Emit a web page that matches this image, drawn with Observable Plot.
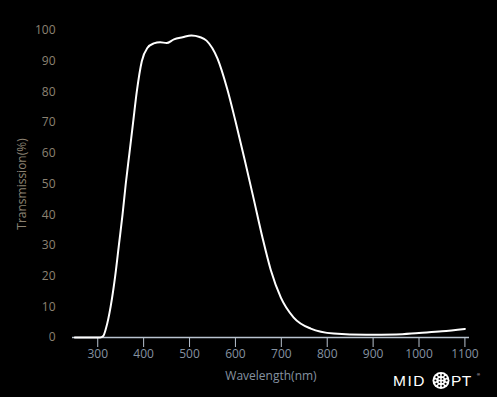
<!DOCTYPE html>
<html>
<head>
<meta charset="utf-8">
<script src="https://cdn.jsdelivr.net/npm/d3@7"></script>
<script src="https://cdn.jsdelivr.net/npm/@observablehq/plot@0.6"></script>
<style>
  html, body { margin: 0; padding: 0; background: #000; }
  #chart { width: 497px; height: 397px; position: relative; overflow: hidden; }
</style>
</head>
<body>
<div id="chart"></div>
<script>
const wavelength = [250, 280, 305, 312, 318, 328, 338, 346, 354, 361, 369, 377, 385, 396, 408, 422, 436, 450, 466, 485, 504, 522, 537, 561, 582, 600, 620, 640, 659, 677, 699, 727, 764, 814, 885, 950, 1000, 1050, 1100];
const transmission = [0, 0, 0, 0.5, 3, 10, 20, 30, 40, 50, 60, 70, 80, 90, 94.3, 95.8, 96.2, 95.9, 97.1, 97.8, 98.4, 97.9, 96.7, 90.8, 81, 70.5, 58, 45, 32.5, 22, 13, 6.5, 2.9, 1.3, 0.9, 1.0, 1.5, 2.0, 2.8];
const xTicks = [300, 400, 500, 600, 700, 800, 900, 1000, 1100];
const yTicks = [0, 10, 20, 30, 40, 50, 60, 70, 80, 90, 100];

const data = wavelength.map((w, i) => ({w, t: transmission[i]}));

const chart = Plot.plot({
  width: 497,
  height: 397,
  marginLeft: 72,
  marginRight: 28,
  marginTop: 30,
  marginBottom: 60,
  style: {background: "#000", fontFamily: "'Open Sans', 'DejaVu Sans', sans-serif", fontSize: "12px"},
  x: {domain: [245, 1110]},
  y: {domain: [0, 100]},
  marks: [
    Plot.axisY({ticks: yTicks, tickFormat: d => String(d), tickSize: 0, tickPadding: 17, color: "#8c8272", label: "Transmission(%)", labelAnchor: "center", labelArrow: "none", labelOffset: 55}),
    Plot.axisX({ticks: xTicks, tickFormat: d => String(d), tickSize: 10, tickPadding: 2, color: "#8592a0", stroke: "#b9c3cf", strokeOpacity: 1, label: "Wavelength(nm)", labelAnchor: "center", labelArrow: "none", labelOffset: 42}),
    Plot.ruleY([0], {stroke: "#b9c3cf", strokeWidth: 1.3}),
    Plot.line(data, {x: "w", y: "t", stroke: "#fff", strokeWidth: 2, curve: "monotone-x"})
  ]
});
document.getElementById("chart").appendChild(chart);

// Logo (decoration)
const svg = d3.select(chart);
const g = svg.append("g").attr("transform", "translate(393,386)").attr("fill", "#fff")
  .style("font-family", "'Liberation Sans', Arial, sans-serif").style("font-size", "15.5px")
  .attr("text-anchor", "start");
g.append("text").attr("x", 0).attr("y", 0).attr("text-anchor", "start").style("letter-spacing", "1.5px").text("MID");
const cx = 48, cy = -5.5;
g.append("circle").attr("cx", cx).attr("cy", cy).attr("r", 8.5).attr("fill", "#fff");
for (let k = 0; k < 10; k++) {
  const a = k * Math.PI / 5;
  g.append("circle").attr("cx", cx + 5.6 * Math.cos(a)).attr("cy", cy + 5.6 * Math.sin(a)).attr("r", 1.1).attr("fill", "#000");
}
for (let k = 0; k < 4; k++) {
  const a = k * Math.PI / 2 + Math.PI / 4;
  g.append("circle").attr("cx", cx + 2.2 * Math.cos(a)).attr("cy", cy + 2.2 * Math.sin(a)).attr("r", 0.9).attr("fill", "#000");
}
g.append("text").attr("x", 58).attr("y", 0).attr("text-anchor", "start").style("letter-spacing", "0.5px").text("PT");
g.append("text").attr("x", 84).attr("y", -10).attr("text-anchor", "start").style("font-size", "4px").text("®");
</script>
</body>
</html>
